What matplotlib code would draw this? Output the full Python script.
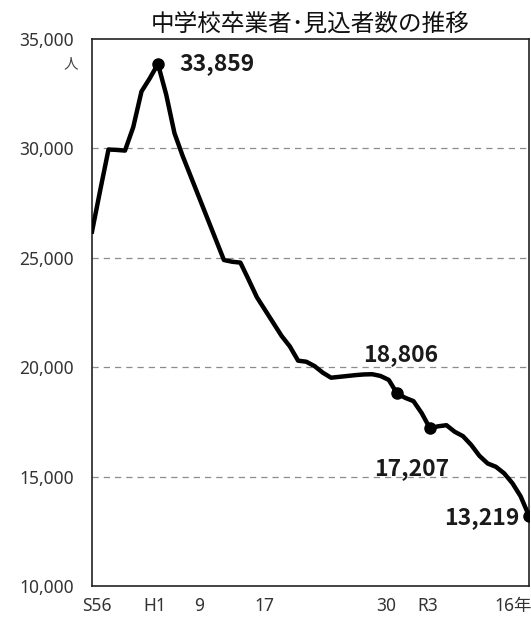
import matplotlib
matplotlib.use("Agg")
import matplotlib.pyplot as plt
from matplotlib.ticker import FuncFormatter

plt.rcParams["font.family"] = ["Noto Sans", "Noto Sans CJK JP", "DejaVu Sans"]

# 昭和56年(1981) から 令和16年(2034) まで
years = list(range(1981, 2035))
graduates = [
    26200, 28100, 29950, 29930, 29900, 30970, 32600, 33200, 33859, 32460,
    30700, 29650, 28700, 27750, 26800, 25850, 24900, 24820, 24780, 24000,
    23200, 22610, 22020, 21430, 20950, 20300, 20250, 20050, 19750, 19520,
    19560, 19600, 19640, 19670, 19680, 19600, 19420, 18806, 18600, 18450,
    17900, 17207, 17300, 17350, 17050, 16850, 16450, 15950, 15600, 15450,
    15150, 14700, 14100, 13219,
]

# 点と数値ラベルを付ける年
marked_years = [1989, 2018, 2022, 2034]
label_offsets = [(21, 0), (4, 39), (-18, -40), (-10, -2)]
label_align = ["left", "center", "center", "right"]

xtick_pos = [1981.55, 1988.6, 1994.0, 2001.9, 2016.7, 2021.7, 2032.1]
xtick_labels = ["S56", "H1", "9", "17", "30", "R3", "16年"]
yticks = [10000, 15000, 20000, 25000, 30000, 35000]

fig = plt.figure(figsize=(5.31, 6.17), dpi=100)
ax = fig.add_axes([0.1733, 0.0502, 0.8227, 0.8866])

ax.plot(years, graduates, color="black", lw=3.2, solid_joinstyle="round", zorder=3)

for yr, off, ha in zip(marked_years, label_offsets, label_align):
    v = graduates[years.index(yr)]
    ax.plot(yr, v, "o", color="black", ms=8, zorder=4)
    ax.annotate(f"{v:,}", (yr, v), xytext=off, textcoords="offset pixels",
                ha=ha, va="center", fontsize=16.5, fontweight="bold",
                family=["Noto Sans CJK JP", "DejaVu Sans"], color="#1a1a1a")

ax.set_xlim(years[0], years[-1])
ax.set_ylim(10000, 35000)
ax.set_yticks(yticks)
ax.yaxis.set_major_formatter(FuncFormatter(lambda v, p: f"{int(v):,}"))
ax.set_xticks(xtick_pos)
ax.set_xticklabels(xtick_labels)

for g in yticks[1:-1]:
    ax.axhline(g, color="#8c8c8c", lw=0.9, ls=(0, (5, 4)), zorder=1)

ax.tick_params(axis="y", length=0, pad=13, labelsize=12.5, labelcolor="#333333")
ax.tick_params(axis="x", length=0, pad=8, labelsize=12.5, labelcolor="#333333")
for s in ax.spines.values():
    s.set_color("#222222")
    s.set_linewidth(1.2)

ax.text(-0.048, 0.953, "人", transform=ax.transAxes, ha="center", va="center",
        fontsize=10.5, color="#444444")
ax.set_title("中学校卒業者･見込者数の推移", fontsize=17, pad=6, color="#111111")

fig.savefig("out.png", dpi=100)
